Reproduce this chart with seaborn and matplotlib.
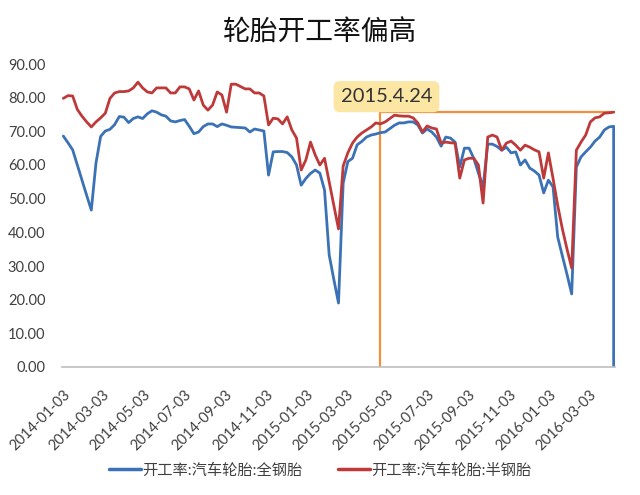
import pandas as pd
import matplotlib
matplotlib.use('Agg')
import matplotlib.pyplot as plt
import matplotlib.dates as mdates
import seaborn as sns

# weekly dates (Fridays) and the two operating-rate series
weeks = pd.date_range('2014-01-03', '2016-04-08', freq='7D')

all_steel = [68.6, 66.6, 64.5, 60.0, 55.5, 51.0, 46.6, 60.6, 68.5, 70.1,
             70.6, 72.0, 74.4, 74.2, 72.6, 73.8, 74.3, 73.8, 75.2, 76.1,
             75.7, 74.9, 74.5, 73.1, 72.8, 73.2, 73.5, 71.5, 69.3, 69.8,
             71.4, 72.2, 72.2, 71.4, 72.2, 71.8, 71.3, 71.2, 71.1, 71.0,
             69.8, 70.7, 70.4, 70.1, 57.0, 63.9, 64.0, 64.0, 63.7, 62.4,
             60.0, 54.0, 56.0, 57.5, 58.5, 57.6, 52.6, 33.3, 26.0, 19.0,
             54.6, 61.0, 62.0, 66.0, 67.0, 68.3, 68.9, 69.2, 69.6, 69.8,
             70.8, 71.8, 72.5, 72.5, 72.8, 72.8, 71.9, 69.5, 70.7, 69.8,
             68.3, 65.6, 68.3, 68.0, 66.8, 59.4, 65.0, 65.0, 62.0, 57.6,
             53.5, 66.2, 66.2, 65.5, 64.4, 65.3, 63.6, 63.9, 60.0, 61.5,
             59.1, 58.2, 57.0, 51.7, 55.5, 53.5, 38.6, 33.0, 27.5, 21.7,
             59.4, 62.4, 63.9, 65.3, 67.1, 68.3, 70.4, 71.3, 71.5]
all_steel_end = 0.0  # last reading drops to zero

semi_steel = [79.8, 80.6, 80.5, 76.5, 74.5, 72.8, 71.3, 72.8, 74.0, 75.4,
              79.8, 81.4, 81.8, 81.8, 82.0, 82.9, 84.6, 82.9, 81.7, 81.4,
              82.9, 82.9, 82.9, 81.4, 81.4, 83.2, 83.2, 82.6, 79.3, 82.0,
              77.8, 76.3, 77.8, 81.7, 80.8, 75.7, 84.0, 84.0, 83.3, 82.6,
              82.6, 81.4, 81.4, 80.5, 71.9, 73.9, 73.7, 72.2, 74.3, 70.4,
              68.0, 58.5, 61.5, 66.8, 63.0, 60.0, 62.0, 55.0, 48.0, 41.0,
              59.7, 63.6, 66.5, 68.3, 69.5, 70.4, 71.3, 72.5, 72.2, 72.8,
              73.8, 74.8, 74.6, 74.5, 74.5, 74.0, 72.5, 69.8, 71.6, 71.0,
              70.7, 66.5, 66.8, 66.6, 66.5, 56.1, 61.5, 62.0, 62.0, 60.0,
              48.7, 68.3, 68.9, 68.3, 64.4, 66.5, 67.1, 65.9, 64.4, 65.9,
              65.3, 64.5, 63.9, 56.1, 63.6, 56.0, 48.0, 41.0, 35.0, 29.4,
              64.4, 66.8, 68.9, 72.8, 74.0, 74.3, 75.4, 75.5, 75.7]

label_all = '开工率:汽车轮胎:全钢胎'
label_semi = '开工率:汽车轮胎:半钢胎'
mark_date = pd.Timestamp('2015-04-24')
mark_text = '2015.4.24'

blue = '#3B72B6'
red = '#BE3A3A'
orange = '#F0903A'

df_all = pd.DataFrame({'date': list(weeks) + [weeks[-1]],
                       'value': all_steel + [all_steel_end],
                       'series': label_all})
df_semi = pd.DataFrame({'date': weeks, 'value': semi_steel, 'series': label_semi})
df = pd.concat([df_all, df_semi], ignore_index=True)

sns.set_theme(style='white')
plt.rcParams['font.family'] = ['Lato', 'Noto Sans CJK SC', 'DejaVu Sans']

fig = plt.figure(figsize=(6.4, 4.95), dpi=100)
ax = fig.add_axes([62 / 640, 1 - 367 / 495, (615 - 62) / 640, (367 - 64) / 495])

sns.lineplot(data=df, x='date', y='value', hue='series',
             palette={label_all: blue, label_semi: red},
             estimator=None, sort=False, linewidth=2.0, ax=ax, legend=False)

# highlight box from 2015.4.24 to the end
mark_level = semi_steel[-1]
ax.plot([mark_date, mark_date], [0, mark_level], color=orange, lw=1.6, zorder=1)
ax.plot([mark_date, weeks[-1]], [mark_level, mark_level], color=orange, lw=1.6, zorder=1)
ax.text(mark_date + pd.Timedelta(days=9), 80.3, mark_text, ha='center', va='center',
        fontsize=14.5, color='#333333',
        bbox=dict(boxstyle='round,pad=0.35,rounding_size=0.3', fc='#FCE6A4', ec='none'))

ax.set_ylim(0, 90)
ax.set_xlim(pd.Timestamp('2014-01-01'), pd.Timestamp('2016-04-10'))
ax.set_yticks(range(0, 91, 10))
ax.set_yticklabels([f'{v:.2f}' for v in range(0, 91, 10)], fontsize=10.5, color='#404040')
ax.xaxis.set_major_locator(mdates.MonthLocator(bymonth=[1, 3, 5, 7, 9, 11], bymonthday=3))
ax.xaxis.set_major_formatter(mdates.DateFormatter('%Y-%m-%d'))
plt.setp(ax.get_xticklabels(), rotation=45, ha='right', rotation_mode='anchor',
         fontsize=10.5, color='#404040')
ax.tick_params(axis='x', length=0, pad=15)
ax.tick_params(axis='y', length=0, pad=12)
ax.set_xlabel('')
ax.set_ylabel('')
for s in ['top', 'right', 'left']:
    ax.spines[s].set_visible(False)
ax.spines['bottom'].set_color('#BFBFBF')
ax.spines['bottom'].set_linewidth(1.2)

fig.suptitle('轮胎开工率偏高', y=0.965, fontsize=20, color='#111111',
             family=['Noto Sans CJK SC', 'DejaVu Sans'])

handles = [plt.Line2D([], [], color=blue, lw=2.5), plt.Line2D([], [], color=red, lw=2.5)]
fig.legend(handles, [label_all, label_semi], loc='center', bbox_to_anchor=(0.5, 0.05),
           ncol=2, frameon=False, fontsize=11, handlelength=2.1, handletextpad=0.1,
           columnspacing=2.3, labelcolor='#404040')

fig.savefig('out.png', dpi=100)
